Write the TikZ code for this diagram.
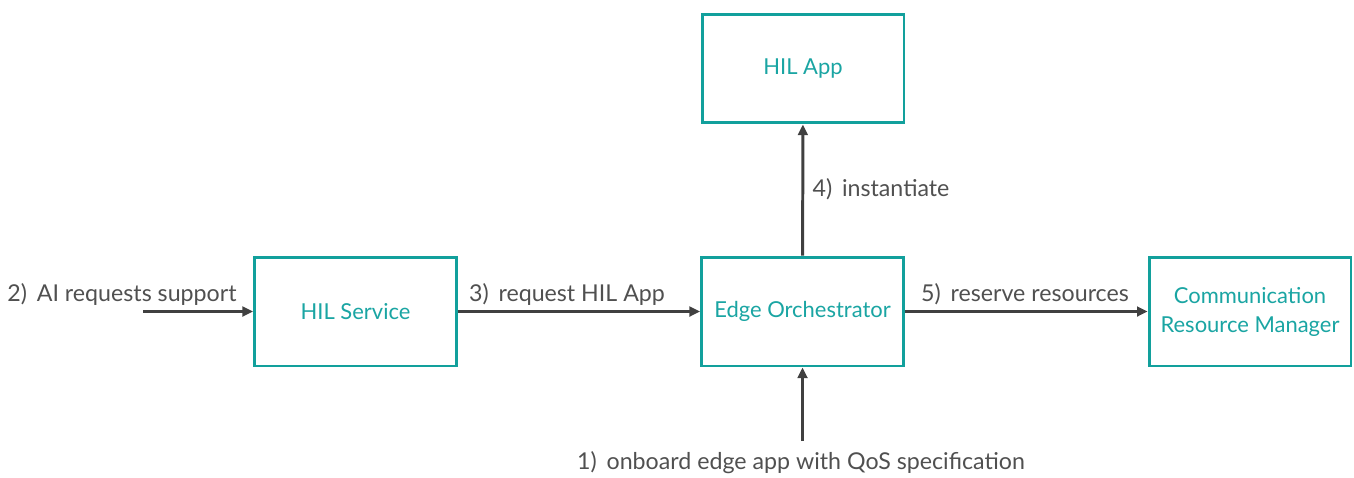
\documentclass[tikz,border=0pt]{standalone}
\usepackage{fontspec}
\setmainfont{Lato}
\usetikzlibrary{arrows.meta,positioning}
\definecolor{tealline}{HTML}{12A09C}
\definecolor{tealtext}{HTML}{1AA5A3}
\definecolor{flowink}{HTML}{404040}
\definecolor{labelink}{HTML}{505050}

\begin{document}
\begin{tikzpicture}[x=0.02cm,y=-0.02cm,
    block/.style={draw=tealline,line width=1.7pt,fill=white,
                  minimum width=4.04cm,minimum height=2.18cm,
                  align=center,text=tealtext,font=\fontsize{12.5}{16.5}\selectfont},
    flow/.style={draw=flowink,line width=1.7pt,-{Triangle[length=6pt,width=5.5pt]}},
    steplabel/.style={text=labelink,font=\fontsize{13.2}{16}\selectfont,inner sep=1pt}]
  \useasboundingbox (0,0) rectangle (1354,477);

  % the four blocks
  \node[block] (hilapp)  at (803,68.5)    {HIL App};
  \node[block] (hilsvc)  at (355.5,311.5) {HIL Service};
  \node[block] (edgeorc) at (802.5,311.5) {Edge Orchestrator};
  \node[block] (crm)     at (1250,311.5)  {Communication\\Resource Manager};

  % free ends of the two incoming arrows
  \coordinate (aireq)   at (143,311.5);
  \coordinate (onboard) at (802.5,441);

  % numbered steps
  \draw[flow] (onboard) -- (edgeorc);
  \draw[flow] (aireq) -- (hilsvc);
  \draw[flow] (hilsvc) -- (edgeorc);
  \draw[flow] (edgeorc) -- (hilapp);
  \draw[flow] (edgeorc) -- (crm);

  \node[steplabel] (lbla) at (122,294)   {2)\, AI requests support};
  \node[steplabel] (lblb) at (567,294)   {3)\, request HIL App};
  \node[steplabel] (lblc) at (881,189)   {4)\, instantiate};
  \node[steplabel] (lbld) at (1025,294)  {5)\, reserve resources};
  \node[steplabel] (lble) at (801,463)   {1)\, onboard edge app with QoS specification};
\end{tikzpicture}
\end{document}
